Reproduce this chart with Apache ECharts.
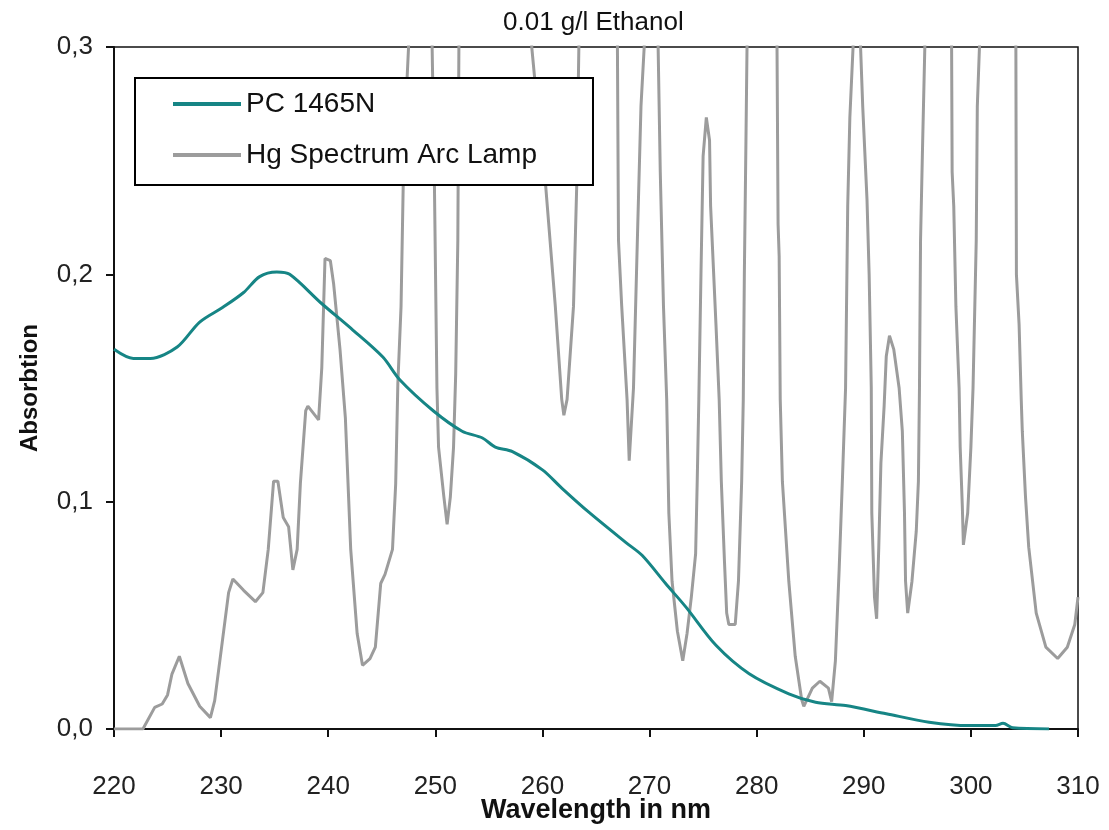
<!DOCTYPE html>
<html>
<head>
<meta charset="utf-8">
<title>0.01 g/l Ethanol</title>
<script src="https://cdn.jsdelivr.net/npm/echarts@6/dist/echarts.min.js"></script>
<style>
  html, body { margin: 0; padding: 0; background: #fff; }
  #chart { width: 1109px; height: 830px; }
</style>
</head>
<body>
<div id="chart"></div>
<script>
// PC 1465N absorption curve (wavelength nm / absorbance)
const pcWavelength = [220, 221.8, 223.4, 225.9, 228, 230.2, 232.1, 233.6, 235.2, 236.4, 239.3, 242.3,
  245.1, 246.7, 249.8, 252.5, 254.4, 255.6, 257.2, 260, 261.8, 264.3, 267.8, 269.3, 271.5, 273.4,
  276.2, 279.3, 283, 285.5, 288.3, 292.1, 296.1, 299.8, 302.3, 303, 303.9, 307.3]
const pcAbsorption = [0.167, 0.163, 0.163, 0.168, 0.179, 0.1856, 0.192, 0.199, 0.201, 0.2, 0.1875, 0.1755,
  0.1636, 0.1535, 0.14, 0.131, 0.128, 0.124, 0.122, 0.114, 0.106, 0.0955, 0.082, 0.0764, 0.064, 0.0536,
  0.0368, 0.0243, 0.0155, 0.0118, 0.0103, 0.0067, 0.003, 0.0015, 0.0015, 0.0025, 0.0005, 0]

// Hg arc lamp spectrum, lines run off the top of the scale
const hgWavelength = [220, 222.7, 223.8, 224.5, 225, 225.4, 226.1, 226.9, 228, 229, 229.4, 230.1, 230.7,
  231.1, 232.1, 233.2, 233.9, 234.4, 234.9, 235.3, 235.8, 236.3, 236.7, 237.1, 237.4, 237.9, 238.1,
  239.1, 239.4, 239.7, 240.2, 240.5, 241.1, 241.6, 242.1, 242.7, 243.2, 243.9, 244.4, 244.9, 245.3,
  246, 246.3, 246.5, 246.8, 247, 247.3, 247.5, 248.6, 249.7, 249.9, 250.15, 250.3, 250.8, 251.1,
  251.4, 251.7, 251.9, 252.1, 252.2, 255.6, 259, 259.3, 260.3, 261.2, 261.8, 262, 262.3, 262.9,
  263.2, 263.4, 265.2, 267, 267.1, 267.4, 267.9, 268.1, 268.5, 268.9, 269.2, 269.5, 270.15, 270.8,
  271, 271.3, 271.6, 271.8, 272.1, 272.6, 273.1, 273.5, 273.9, 274.3, 274.45, 274.6, 274.8, 275,
  275.3, 275.6, 275.7, 276.2, 276.5, 276.7, 277, 277.2, 277.4, 278, 278.3, 278.6, 278.75, 278.85,
  279, 279.1, 280.5, 281.9, 282, 282.1, 282.2, 282.4, 283, 283.6, 284.2, 284.4, 285.2, 285.9, 286.7,
  287, 287.35, 287.7, 288, 288.3, 288.5, 288.7, 289, 289.35, 289.7, 289.9, 290.3, 290.5, 290.7,
  290.75, 291, 291.2, 291.4, 291.6, 291.9, 292.1, 292.4, 292.8, 293.3, 293.6, 293.8, 293.9, 294.1,
  294.5, 294.9, 295.1, 295.2, 295.3, 295.5, 295.7, 297, 298.2, 298.25, 298.4, 298.6, 298.9, 299,
  299.2, 299.3, 299.7, 300, 300.2, 300.5, 300.6, 300.8, 302.5, 304.2, 304.25, 304.5, 304.7, 304.8,
  305.1, 305.4, 306.1, 307, 308.1, 309, 309.7, 310]
const hgAbsorption = [0, 0, 0.0095, 0.011, 0.015, 0.024, 0.032, 0.02, 0.01, 0.005, 0.0125, 0.038, 0.06,
  0.066, 0.061, 0.056, 0.06, 0.079, 0.109, 0.109, 0.093, 0.089, 0.07, 0.079, 0.108, 0.14, 0.142,
  0.136, 0.159, 0.207, 0.206, 0.196, 0.167, 0.137, 0.079, 0.042, 0.028, 0.031, 0.036, 0.064, 0.068,
  0.079, 0.108, 0.152, 0.186, 0.239, 0.28, 0.3, 0.8, 0.3, 0.245, 0.15, 0.124, 0.102, 0.09,
  0.102, 0.124, 0.156, 0.215, 0.3, 1.5, 0.3, 0.285, 0.239, 0.186, 0.145, 0.138, 0.145, 0.186,
  0.239, 0.3, 0.7, 0.3, 0.215, 0.186, 0.145, 0.118, 0.15, 0.222, 0.274, 0.3, 0.45, 0.3,
  0.245, 0.186, 0.145, 0.095, 0.065, 0.043, 0.03, 0.042, 0.058, 0.077, 0.109, 0.145, 0.2, 0.252,
  0.269, 0.259, 0.23, 0.178, 0.145, 0.109, 0.073, 0.051, 0.046, 0.046, 0.065, 0.109, 0.145, 0.2,
  0.259, 0.3, 0.8, 0.3, 0.222, 0.208, 0.145, 0.109, 0.065, 0.032, 0.013, 0.01, 0.018, 0.021, 0.018,
  0.012, 0.03, 0.07, 0.109, 0.15, 0.23, 0.269, 0.3, 0.45, 0.3, 0.274, 0.233, 0.2, 0.15,
  0.095, 0.058, 0.0485, 0.08, 0.117, 0.142, 0.164, 0.173, 0.167, 0.15, 0.131, 0.095, 0.065, 0.051,
  0.065, 0.087, 0.109, 0.15, 0.215, 0.259, 0.3, 0.9, 0.3, 0.245, 0.23, 0.186, 0.15, 0.124,
  0.098, 0.081, 0.095, 0.124, 0.15, 0.215, 0.274, 0.3, 0.9, 0.3, 0.2, 0.178, 0.145, 0.131,
  0.102, 0.08, 0.051, 0.036, 0.031, 0.036, 0.046, 0.058]

const xTicks = { min: 220, max: 310, interval: 10 }
const yTicks = { min: 0, max: 0.3, interval: 0.1 }

const font = '"Liberation Sans", Arial, sans-serif'

function pairs(xs, ys) {
  return xs.map((x, i) => [x, ys[i]])
}

const chart = echarts.init(document.getElementById('chart'), null, { renderer: 'canvas' })

const option = {
  animation: false,
  backgroundColor: '#fff',
  textStyle: { fontFamily: font },
  title: {
    text: '0.01 g/l Ethanol',
    left: 498,
    top: 5,
    textStyle: { fontSize: 26, fontWeight: 'normal', color: '#111', fontFamily: font },
  },
  legend: {
    orient: 'vertical',
    left: 135,
    top: 78,
    backgroundColor: '#fff',
    borderColor: '#000',
    borderWidth: 2,
    padding: [12, 56, 16, 38],
    icon: 'rect', // plain thick line as in the original
    itemWidth: 68,
    itemHeight: 4,
    itemGap: 23,
    textStyle: { fontSize: 28, color: '#111', fontFamily: font },
    data: ['PC 1465N', 'Hg Spectrum Arc Lamp'],
  },
  grid: {
    left: 114,
    right: 31,
    top: 47,
    bottom: 101,
    containLabel: false,
    outerBoundsMode: 'none', // keep the plot box where it is, labels sit outside
    show: true,
    borderColor: '#111',
    borderWidth: 1.5,
  },
  xAxis: {
    type: 'value',
    min: xTicks.min,
    max: xTicks.max,
    interval: xTicks.interval,
    name: 'Wavelength in nm',
    nameLocation: 'middle',
    nameGap: 68,
    nameMoveOverlap: false,
    nameTextStyle: { fontSize: 27, fontWeight: 'bold', color: '#111', fontFamily: font },
    axisLine: { lineStyle: { color: '#111', width: 2 } },
    axisTick: { length: 8, lineStyle: { color: '#111', width: 2 } },
    axisLabel: { fontSize: 26, color: '#222', margin: 45, fontFamily: font },
    splitLine: { show: false },
  },
  yAxis: {
    type: 'value',
    min: yTicks.min,
    max: yTicks.max,
    interval: yTicks.interval,
    name: 'Absorbtion',
    nameLocation: 'middle',
    nameGap: 72,
    nameMoveOverlap: false,
    nameTextStyle: { fontSize: 24, fontWeight: 'bold', color: '#111', fontFamily: font },
    axisLine: { show: true, lineStyle: { color: '#111', width: 2 } },
    axisTick: { show: true, length: 8, lineStyle: { color: '#111', width: 2 } },
    axisLabel: {
      fontSize: 26,
      color: '#222',
      margin: 21,
      fontFamily: font,
      formatter: (v) => v.toFixed(1).replace('.', ','),
    },
    splitLine: { show: false },
  },
  series: [
    {
      name: 'PC 1465N',
      type: 'line',
      data: pairs(pcWavelength, pcAbsorption),
      symbol: 'none',
      smooth: 0.3,
      z: 3,
      color: '#168585',
      lineStyle: { color: '#168585', width: 3 },
    },
    {
      name: 'Hg Spectrum Arc Lamp',
      type: 'line',
      data: pairs(hgWavelength, hgAbsorption),
      symbol: 'none',
      clip: true,
      z: 2,
      color: '#9c9c9c',
      lineStyle: { color: '#9c9c9c', width: 3 },
    },
  ],
}

chart.setOption(option)
</script>
</body>
</html>
